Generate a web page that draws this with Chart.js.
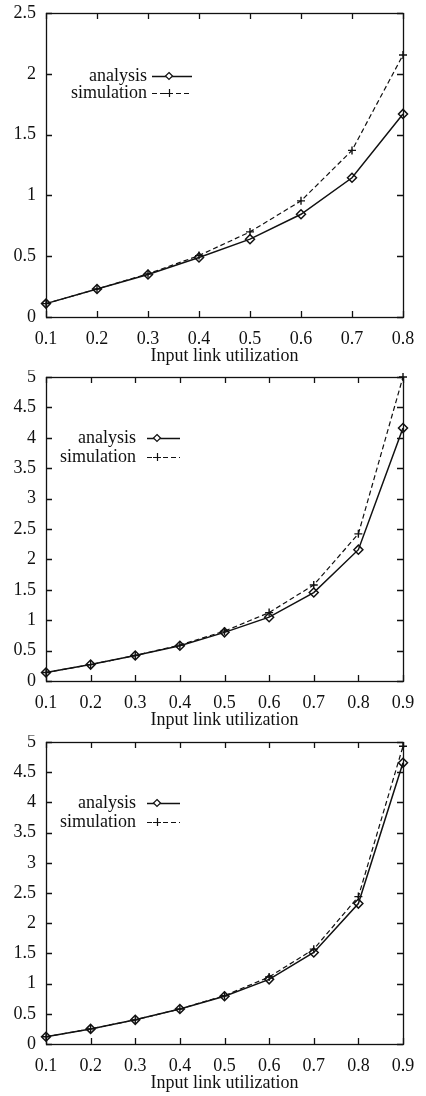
<!DOCTYPE html>
<html>
<head>
<meta charset="utf-8">
<script src="https://cdn.jsdelivr.net/npm/chart.js@4.4.0/dist/chart.umd.min.js"></script>
<style>
    html, body { margin: 0; padding: 0; background: #fff; }
    canvas { display: block; }
</style>
</head>
<body>
<canvas id="chart1" width="426" height="370"></canvas>
<canvas id="chart2" width="426" height="365"></canvas>
<canvas id="chart3" width="426" height="361"></canvas>
<script>
    // ==================== DATA ====================
    const utilLabels8 = ['0.1', '0.2', '0.3', '0.4', '0.5', '0.6', '0.7', '0.8'];
    const utilLabels9 = ['0.1', '0.2', '0.3', '0.4', '0.5', '0.6', '0.7', '0.8', '0.9'];
    const seriesNames = ['analysis', 'simulation'];
    const xTitle = 'Input link utilization';

    const analysis1 = [0.11, 0.23, 0.35, 0.49, 0.64, 0.845, 1.145, 1.67];
    const simulation1 = [0.11, 0.23, 0.355, 0.505, 0.70, 0.955, 1.37, 2.155];

    const analysis2 = [0.14, 0.27, 0.42, 0.58, 0.80, 1.05, 1.455, 2.16, 4.16];
    const simulation2 = [0.14, 0.27, 0.42, 0.59, 0.82, 1.125, 1.58, 2.42, 5.0];

    const analysis3 = [0.12, 0.25, 0.40, 0.58, 0.79, 1.07, 1.515, 2.325, 4.655];
    const simulation3 = [0.12, 0.25, 0.40, 0.58, 0.80, 1.11, 1.57, 2.44, 4.93];

    const yMax1 = 2.5, yMax2 = 5, yMax3 = 5;
    const yStep = 0.5;

    const FONT = "'Liberation Serif', 'Times New Roman', serif";
    const INK = '#111';

    // box + inward ticks on all four sides
    const framePlugin = {
        id: 'frame',
        afterDraw(chart) {
            const { ctx, chartArea: a, scales } = chart;
            const len = 6;
            ctx.save();
            ctx.strokeStyle = INK;
            ctx.lineWidth = 1.3;
            ctx.strokeRect(a.left + 0.5, a.top + 0.5, a.right - a.left, a.bottom - a.top);
            ctx.beginPath();
            scales.x.ticks.forEach((t, i) => {
                const px = Math.round(scales.x.getPixelForTick(i)) + 0.5;
                ctx.moveTo(px, a.bottom); ctx.lineTo(px, a.bottom - len);
                ctx.moveTo(px, a.top); ctx.lineTo(px, a.top + len);
            });
            scales.y.ticks.forEach((t, i) => {
                const py = Math.round(scales.y.getPixelForTick(i)) + 0.5;
                ctx.moveTo(a.left, py); ctx.lineTo(a.left + len, py);
                ctx.moveTo(a.right, py); ctx.lineTo(a.right - len, py);
            });
            ctx.stroke();
            ctx.restore();
        }
    };

    // legend drawn inside the plot, gnuplot style
    const keyPlugin = {
        id: 'key',
        afterDraw(chart, args, opts) {
            const ctx = chart.ctx;
            ctx.save();
            ctx.font = '18px ' + FONT;
            ctx.fillStyle = INK;
            ctx.strokeStyle = INK;
            ctx.textAlign = 'right';
            ctx.textBaseline = 'middle';
            chart.data.datasets.forEach((ds, i) => {
                const y = opts.rows[i];
                ctx.fillText(ds.label, opts.textRight, y);
                ctx.lineWidth = ds.borderWidth;
                ctx.setLineDash(ds.borderDash || []);
                ctx.beginPath();
                ctx.moveTo(opts.lineStart, y + 0.5);
                ctx.lineTo(opts.lineEnd, y + 0.5);
                ctx.stroke();
                ctx.setLineDash([]);
                ctx.lineWidth = 1.2;
                ctx.beginPath();
                if (i === 0) {
                    const r = 3.5;
                    ctx.moveTo(opts.marker, y - r); ctx.lineTo(opts.marker + r, y);
                    ctx.lineTo(opts.marker, y + r); ctx.lineTo(opts.marker - r, y);
                    ctx.closePath();
                    ctx.fillStyle = '#fff';
                    ctx.fill();
                    ctx.fillStyle = INK;
                } else {
                    ctx.moveTo(opts.marker - 4, y + 0.5); ctx.lineTo(opts.marker + 4, y + 0.5);
                    ctx.moveTo(opts.marker + 0.5, y - 4); ctx.lineTo(opts.marker + 0.5, y + 4);
                }
                ctx.stroke();
            });
            ctx.restore();
        }
    };

    function makeChart(id, labels, analysis, simulation, yMax, pad, key) {
        const ctx = document.getElementById(id).getContext('2d');
        return new Chart(ctx, {
            type: 'line',
            data: {
                labels: labels,
                datasets: [
                    { label: seriesNames[0], data: analysis, borderColor: INK, borderWidth: 1.5,
                      pointStyle: 'rectRot', pointRadius: 4.5, pointBorderWidth: 1.5,
                      pointBackgroundColor: 'rgba(0,0,0,0)', pointBorderColor: INK,
                      tension: 0, clip: false },
                    { label: seriesNames[1], data: simulation, borderColor: INK, borderWidth: 1.2,
                      borderDash: [5, 3], pointStyle: 'cross', pointRadius: 4, pointBorderWidth: 1.4,
                      pointBorderColor: INK, tension: 0, clip: false }
                ]
            },
            options: {
                responsive: false,
                animation: false,
                layout: { padding: { left: 0, right: 23, top: pad.top, bottom: pad.bottom } },
                plugins: { legend: { display: false }, tooltip: { enabled: false }, key: key },
                scales: {
                    x: {
                        type: 'category',
                        offset: false,
                        grid: { display: false, drawTicks: false },
                        border: { display: false },
                        ticks: { color: INK, padding: 11, maxRotation: 0, font: { family: FONT, size: 18 } },
                        title: { display: true, text: xTitle, color: INK, padding: 0, font: { family: FONT, size: 18 } },
                        afterFit(s) { s.height = 50; s.paddingLeft = 0; s.paddingRight = 0; }
                    },
                    y: {
                        min: 0, max: yMax,
                        grid: { display: false, drawTicks: false },
                        border: { display: false },
                        ticks: {
                            stepSize: yStep, color: INK, padding: 10, font: { family: FONT, size: 18 },
                            callback: v => String(Math.round(v * 10) / 10)
                        },
                        afterFit(s) { s.width = 46; s.paddingTop = 0; s.paddingBottom = 0; }
                    }
                }
            },
            plugins: [framePlugin, keyPlugin]
        });
    }

    makeChart('chart1', utilLabels8, analysis1, simulation1, yMax1, { top: 13, bottom: 3 },
        { textRight: 147, lineStart: 152, lineEnd: 192, marker: 169, rows: [76, 93] });
    makeChart('chart2', utilLabels9, analysis2, simulation2, yMax2, { top: 7, bottom: 4 },
        { textRight: 136, lineStart: 147, lineEnd: 180, marker: 157, rows: [68, 87] });
    makeChart('chart3', utilLabels9, analysis3, simulation3, yMax3, { top: 7, bottom: 2 },
        { textRight: 136, lineStart: 147, lineEnd: 180, marker: 157, rows: [68, 87] });
</script>
</body>
</html>
